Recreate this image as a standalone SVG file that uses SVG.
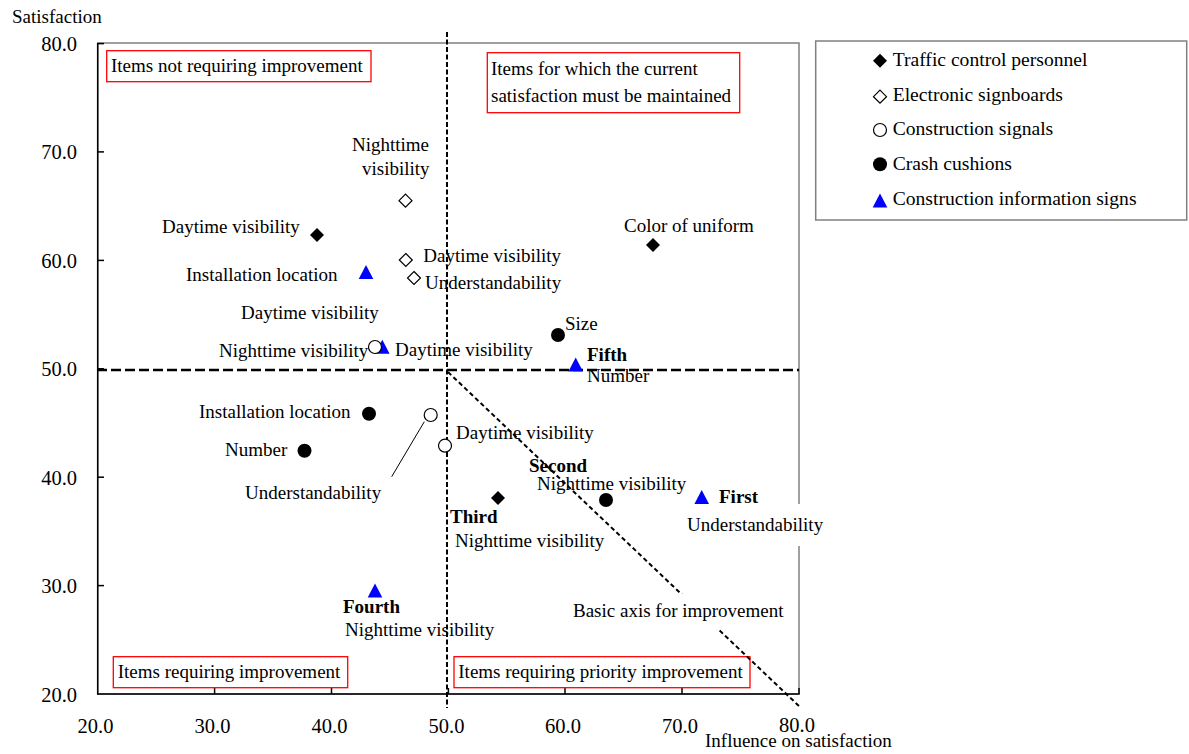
<svg xmlns="http://www.w3.org/2000/svg" width="1189" height="754" viewBox="0 0 1189 754">
<style>
text{font-family:"Liberation Serif","Times New Roman",serif;font-size:19px;fill:#000}
.tick{font-size:20.5px}
.leg{font-size:19.6px}
.b{font-weight:bold}
.redbox{fill:#fff;stroke:#ff0000;stroke-width:1.3}
.wbg{fill:#fff;stroke:none}
.frame{fill:none;stroke:#808080;stroke-width:1.5}
.axis{fill:none;stroke:#000;stroke-width:1.5}
.vd{stroke:#000;stroke-width:2;stroke-dasharray:5 2.5;fill:none}
.hd{stroke:#000;stroke-width:2.3;stroke-dasharray:10 4;fill:none}
.dd{stroke:#000;stroke-width:2;stroke-dasharray:4.5 3;fill:none}
.lead{stroke:#000;stroke-width:1;fill:none}
</style>
<defs>
<path id="fdia" d="M0,-7 L7,0 L0,7 L-7,0Z" fill="#000"/>
<path id="odia" d="M0,-6.5 L6.5,0 L0,6.5 L-6.5,0Z" fill="#fff" stroke="#000" stroke-width="1.2"/>
<circle id="ocir" r="6.5" fill="#fff" stroke="#000" stroke-width="1.2"/>
<circle id="fcir" r="7" fill="#000"/>
<path id="tri" d="M0,-7 L7.3,7 L-7.3,7Z" fill="#0000ff"/>
</defs>

<g id="plot-frame">
<rect class="frame" x="97.7" y="43" width="701.3" height="651"/>
<line class="axis" x1="97.7" y1="43" x2="97.7" y2="694.5"/>
<line class="axis" x1="97" y1="694" x2="799.5" y2="694"/>
<g class="axis">
<line x1="97.7" y1="43.6" x2="104" y2="43.6"/>
<line x1="97.7" y1="151.9" x2="104" y2="151.9"/>
<line x1="97.7" y1="260.4" x2="104" y2="260.4"/>
<line x1="97.7" y1="368.8" x2="104" y2="368.8"/>
<line x1="97.7" y1="477.2" x2="104" y2="477.2"/>
<line x1="97.7" y1="585.6" x2="104" y2="585.6"/>
<line x1="214.6" y1="694" x2="214.6" y2="688"/>
<line x1="331.5" y1="694" x2="331.5" y2="688"/>
<line x1="448.4" y1="694" x2="448.4" y2="688"/>
<line x1="565" y1="694" x2="565" y2="688"/>
<line x1="682" y1="694" x2="682" y2="688"/>
<line x1="799" y1="694" x2="799" y2="688"/>
</g>
</g>

<g id="axis-labels">
<text x="12" y="23">Satisfaction</text>
<text x="705" y="747">Influence on satisfaction</text>
<g text-anchor="end">
<text class="tick" x="77" y="51">80.0</text>
<text class="tick" x="77" y="159.4">70.0</text>
<text class="tick" x="77" y="267.9">60.0</text>
<text class="tick" x="77" y="376.3">50.0</text>
<text class="tick" x="77" y="484.7">40.0</text>
<text class="tick" x="77" y="593.1">30.0</text>
<text class="tick" x="77" y="701.5">20.0</text>
</g>
<g text-anchor="middle">
<text class="tick" x="95.5" y="733">20.0</text>
<text class="tick" x="212.5" y="733">30.0</text>
<text class="tick" x="329.5" y="733">40.0</text>
<text class="tick" x="446.5" y="733">50.0</text>
<text class="tick" x="563" y="733">60.0</text>
<text class="tick" x="680" y="733">70.0</text>
<text class="tick" x="797" y="732">80.0</text>
</g>
</g>

<g id="quadrant-labels">
<g id="q-not-requiring">
<rect class="redbox" x="106.7" y="50.7" width="264.3" height="31"/>
<text x="111" y="71.7">Items not requiring improvement</text>
</g>
<g id="q-maintain">
<rect class="redbox" x="487.3" y="52.7" width="252.4" height="60"/>
<text x="491" y="75">Items for which the current</text>
<text x="491" y="102">satisfaction must be maintained</text>
</g>
<g id="q-requiring">
<rect class="redbox" x="113.3" y="656.7" width="234.4" height="31"/>
<text x="117.7" y="678.3">Items requiring improvement</text>
</g>
<g id="q-priority">
<rect class="redbox" x="454" y="656.7" width="296" height="31"/>
<text x="458.3" y="678.3">Items requiring priority improvement</text>
</g>
</g>

<g id="label-elec-understand-bg">
<rect class="wbg" x="423" y="264" width="143" height="30"/>
</g>

<g id="connectors">
<line class="vd" x1="447" y1="32" x2="447" y2="708"/>
<line class="hd" x1="97" y1="370" x2="799" y2="370"/>
<line class="dd" x1="448" y1="372" x2="800" y2="707"/>
<line class="lead" x1="391.7" y1="476.7" x2="424.3" y2="421.7"/>
</g>

<g id="label-bg">
<rect class="wbg" x="683" y="504" width="146" height="42"/>
<rect class="wbg" x="568" y="594" width="224" height="35"/>
</g>

<g id="traffic-control-personnel">
<g id="tcp-daytime"><use href="#fdia" x="317" y="235"/><text x="162" y="233">Daytime visibility</text></g>
<g id="tcp-uniform"><use href="#fdia" x="653" y="245"/><text x="624" y="232">Color of uniform</text></g>
<g id="tcp-nighttime"><use href="#fdia" x="498" y="498"/><text class="b" x="450" y="523">Third</text><text x="455" y="546.5">Nighttime visibility</text></g>
</g>

<g id="electronic-signboards">
<g id="es-nighttime"><use href="#odia" x="405.5" y="200.7"/><text x="352" y="150.7">Nighttime</text><text x="362" y="175">visibility</text></g>
<g id="es-daytime"><use href="#odia" x="405.8" y="260"/><text x="423.3" y="261.7">Daytime visibility</text></g>
<g id="es-understand"><use href="#odia" x="414" y="278"/><text x="425" y="288.5">Understandability</text></g>
</g>

<g id="construction-information-signs">
<g id="cis-install"><use href="#tri" x="366" y="272"/><text x="186" y="281">Installation location</text></g>
<g id="cis-daytime"><use href="#tri" x="382.3" y="346.7"/><text x="395" y="356">Daytime visibility</text></g>
<g id="cis-number"><use href="#tri" x="575.7" y="364.5"/><text class="b" x="587" y="361">Fifth</text><text x="587" y="381.5">Number</text></g>
<g id="cis-understand"><use href="#tri" x="701.7" y="497"/><text class="b" x="719" y="503">First</text><text x="687" y="531">Understandability</text></g>
<g id="cis-nighttime"><use href="#tri" x="375" y="590.5"/><text class="b" x="343" y="613">Fourth</text><text x="345" y="636">Nighttime visibility</text></g>
</g>

<g id="construction-signals">
<g id="cs-nighttime"><use href="#ocir" x="375" y="347"/><text x="241" y="319">Daytime visibility</text><text x="219" y="357">Nighttime visibility</text></g>
<g id="cs-understand"><use href="#ocir" x="430.7" y="415"/><text x="245" y="499">Understandability</text></g>
<g id="cs-daytime"><use href="#ocir" x="445" y="445.7"/><text x="456" y="439">Daytime visibility</text></g>
</g>

<g id="crash-cushions">
<g id="cc-size"><use href="#fcir" x="558" y="335"/><text x="565" y="330">Size</text></g>
<g id="cc-install"><use href="#fcir" x="369" y="413.7"/><text x="199" y="418">Installation location</text></g>
<g id="cc-number"><use href="#fcir" x="304.5" y="450.7"/><text x="225" y="456">Number</text></g>
<g id="cc-nighttime"><use href="#fcir" x="606" y="500"/><text class="b" x="529" y="472">Second</text><text x="537" y="490">Nighttime visibility</text></g>
</g>

<g id="basic-axis-label">
<text x="573" y="617">Basic axis for improvement</text>
</g>

<g id="legend">
<rect x="815.7" y="41" width="371" height="179" fill="#fff" stroke="#808080" stroke-width="1.5"/>
<use href="#fdia" x="880" y="60.7"/><text class="leg" x="892.7" y="65.7">Traffic control personnel</text>
<use href="#odia" x="880" y="96.7"/><text class="leg" x="892.7" y="100.5">Electronic signboards</text>
<use href="#ocir" x="880" y="130"/><text class="leg" x="892.7" y="135.3">Construction signals</text>
<use href="#fcir" x="880" y="164.3"/><text class="leg" x="892.7" y="170">Crash cushions</text>
<use href="#tri" x="880" y="200.5"/><text class="leg" x="892.7" y="205">Construction information signs</text>
</g>
</svg>
